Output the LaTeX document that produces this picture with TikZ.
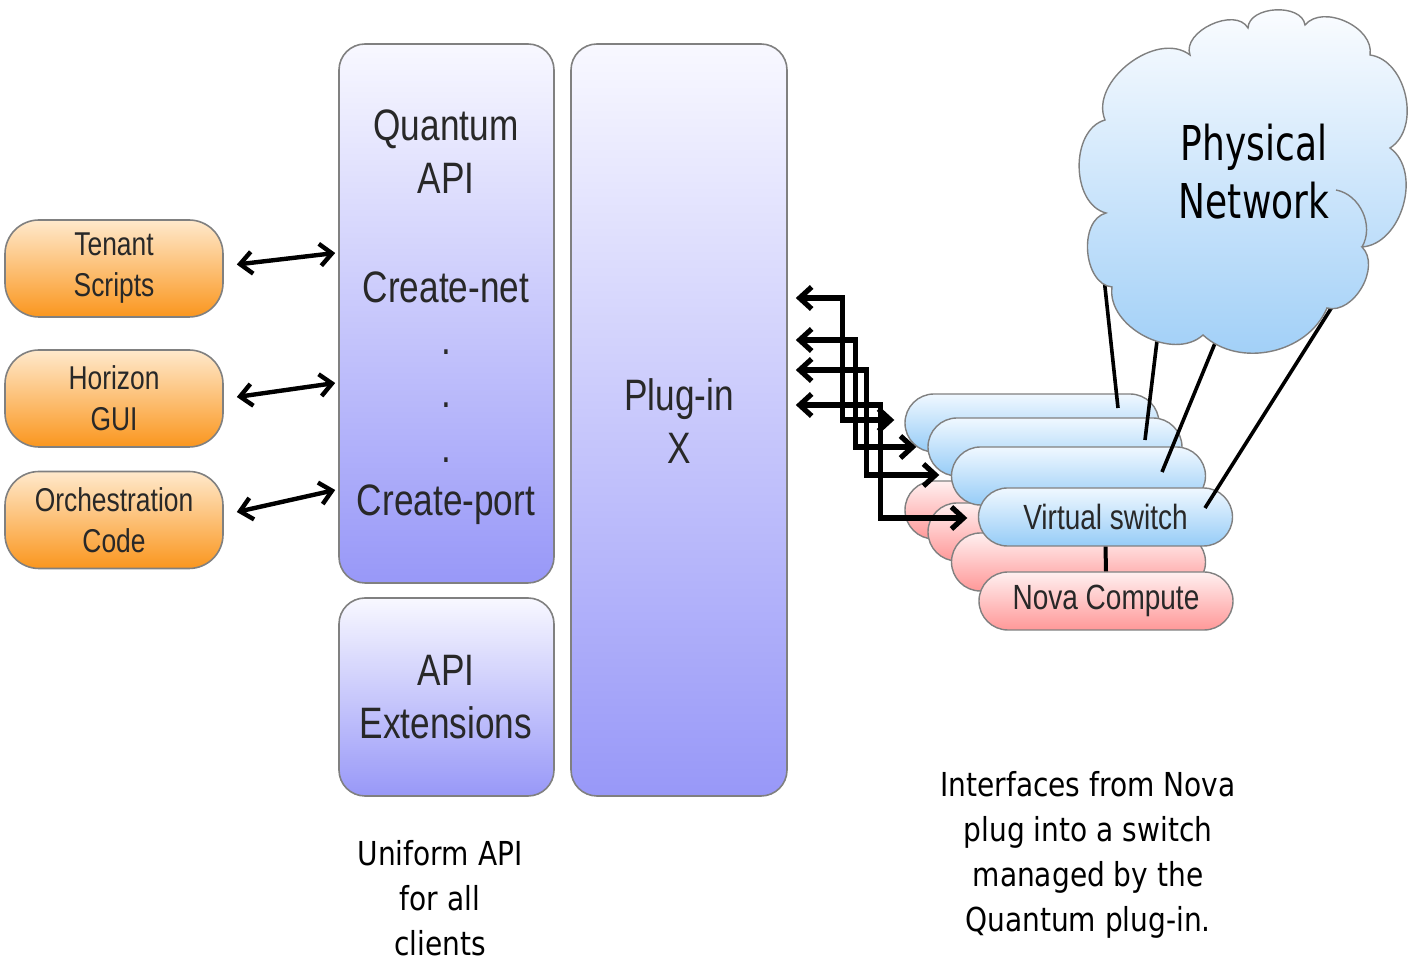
\documentclass[tikz,border=0pt]{standalone}
\usepackage{fontspec}
\setmainfont{Liberation Sans}
\newfontfamily\narrowfont[FakeStretch=0.8]{Liberation Sans}
\newfontfamily\djfont[FakeStretch=0.85]{DejaVu Sans}
\newfontfamily\cloudfont[FakeStretch=0.75]{DejaVu Sans}
\usetikzlibrary{shapes.misc,arrows.meta,calc}
\definecolor{boxgray}{RGB}{128,128,128}
\definecolor{txt}{RGB}{40,40,40}
\definecolor{orangetop}{RGB}{255,233,204}
\definecolor{orangebot}{RGB}{250,150,30}
\definecolor{purpletop}{RGB}{248,248,255}
\definecolor{purplebot}{RGB}{152,152,248}
\definecolor{bluetop}{RGB}{240,248,255}
\definecolor{bluebot}{RGB}{150,204,247}
\definecolor{redtop}{RGB}{255,240,240}
\definecolor{redbot}{RGB}{255,152,152}
\definecolor{cloudtop}{RGB}{252,253,255}
\definecolor{cloudbot}{RGB}{158,206,247}
\begin{document}
\begin{tikzpicture}[x=0.5pt,y=-0.5pt,
  client/.style={draw=boxgray, line width=0.8pt, rounded corners=17pt, top color=orangetop, bottom color=orangebot, minimum width=109pt, minimum height=48.5pt, inner sep=0pt, font=\narrowfont\fontsize{16.5}{20.5}\selectfont, align=center, text=txt},
  apibox/.style={draw=boxgray, line width=0.8pt, rounded corners=13pt, top color=purpletop, bottom color=purplebot, inner sep=0pt},
  boxlabel/.style={font=\narrowfont\fontsize{22}{26.5}\selectfont, align=center, text=txt, inner sep=0pt},
  pill/.style={rounded rectangle, draw=boxgray, line width=0.7pt, minimum width=127pt, minimum height=29pt, inner sep=0pt, font=\narrowfont\fontsize{17.5}{21}\selectfont, text=txt},
  bluepill/.style={pill, top color=bluetop, bottom color=bluebot},
  redpill/.style={pill, top color=redtop, bottom color=redbot},
  biarrow/.style={{Straight Barb[length=6pt,width=11pt]}-{Straight Barb[length=6pt,width=11pt]}, line width=2.2pt},
  busarrow/.style={biarrow, line width=2.6pt},
  wire/.style={line width=1.8pt},
  note/.style={font=\djfont\fontsize{16.5}{22.5}\selectfont, align=center, text=black, inner sep=0pt}]
\useasboundingbox (0,0) rectangle (1409,961);

% clients
\node[client] (tenant) at (114,268.5) {Tenant\\Scripts};
\node[client] (horizon) at (114,398.5) {Horizon\\GUI};
\node[client] (orch) at (114,520) {Orchestration\\Code};

% API boxes
\node[apibox, minimum width=107.5pt, minimum height=269.5pt] (qapi) at (446.5,313.5) {};
\node[apibox, minimum width=107.5pt, minimum height=99pt] (apiext) at (446.5,697) {};
\node[apibox, minimum width=108pt, minimum height=376pt] (plugin) at (679,420) {};

\node[boxlabel] (qapititle) at (446,152) {Quantum\\API};
\node[boxlabel] (cnet) at (446,287) {Create-net};
\node[boxlabel, anchor=base] (d1) at (446,355) {.};
\node[boxlabel, anchor=base] (d2) at (446,408) {.};
\node[boxlabel, anchor=base] (d3) at (446,463) {.};
\node[boxlabel] (cport) at (446,505) {Create-port};
\node[boxlabel] (exttitle) at (446,697) {API\\Extensions};
\node[boxlabel] (plugtitle) at (679,421) {Plug-in\\X};

% client arrows
\draw[biarrow] ($(tenant.east)+(13,-4)$) -- ($(qapi.west |- tenant.east)+(-3,-15.5)$);
\draw[biarrow] ($(horizon.east)+(13,-1.5)$) -- ($(qapi.west |- horizon.east)+(-3,-15.5)$);
\draw[biarrow] ($(orch.east)+(13,-8)$) -- ($(qapi.west |- orch.east)+(-3,-30)$);

% server stack
\node[redpill] (r1) at (1032,510) {};
\node[redpill] (r2) at (1055,532) {};
\node[redpill] (r3) at (1078.5,562) {};
\node[redpill] (nova) at (1106,601) {Nova Compute};
\node[bluepill] (b1) at (1032,423) {};
\node[bluepill] (b2) at (1055,447) {};
\node[bluepill] (b3) at (1078.5,476) {};
\node[bluepill] (vs) at (1105.5,517) {Virtual switch};
\draw[line width=2pt] (vs.south) -- (nova.north);

% wires to the physical network
\coordinate (cloudc) at (1241,178);
\draw[wire] ($(cloudc)+(-137.3,97)$) -- ($(b1.center)+(86,-15)$);
\draw[wire] ($(cloudc)+(-81.6,143)$) -- ($(b2.center)+(90,-7)$);
\draw[wire] ($(cloudc)+(-21.4,154)$) -- ($(b3.center)+(83.5,-4)$);
\draw[wire] ($(cloudc)+(95.4,122)$) -- ($(vs.center)+(99.5,-9)$);

% cloud
\path[draw=boxgray, line width=0.7pt, top color=cloudtop, bottom color=cloudbot]
  (1105,120) to[bend left=75] (1190,55) to[bend left=85] (1248,28)
  to[bend left=85] (1305,25) to[bend left=75] (1370,55)
  to[bend left=70] (1390,148) to[bend left=70] (1362,247)
  to[bend left=75] (1327,308) to[bend left=55] (1203,335)
  to[bend left=70] (1112,287) to[bend left=80] (1106,213)
  to[bend left=75] cycle;
\draw[boxgray, line width=0.7pt] (1336,190) to[bend left=55] (1362,247);
\node[font=\cloudfont\fontsize{24}{29}\selectfont, align=center, text=black, inner sep=0pt] (pn) at (1254,172) {Physical\\Network};

% plug-in to switches
\draw[busarrow] ($(plugin.east)+(8,-122)$) -| ($(b1.west)+(-62,-3)$) -- ($(b1.west)+(-10,-3)$);
\draw[busarrow] ($(plugin.east)+(8,-80)$) -| ($(b2.west)+(-72,0)$) -- ($(b2.west)+(-11,0)$);
\draw[busarrow] ($(plugin.east)+(8,-50)$) -| ($(b3.west)+(-84.5,-1)$) -- ($(b3.west)+(-11.5,-1)$);
\draw[busarrow] ($(plugin.east)+(8,-15)$) -| ($(vs.west)+(-97.5,1)$) -- ($(vs.west)+(-10.5,1)$);

% notes
\node[note] (uniform) at (440,898) {Uniform API\\for all\\clients};
\node[note] (ifaces) at (1088,855) {Interfaces from Nova\\plug into a switch\\managed by the\\Quantum plug-in.};
\end{tikzpicture}
\end{document}
